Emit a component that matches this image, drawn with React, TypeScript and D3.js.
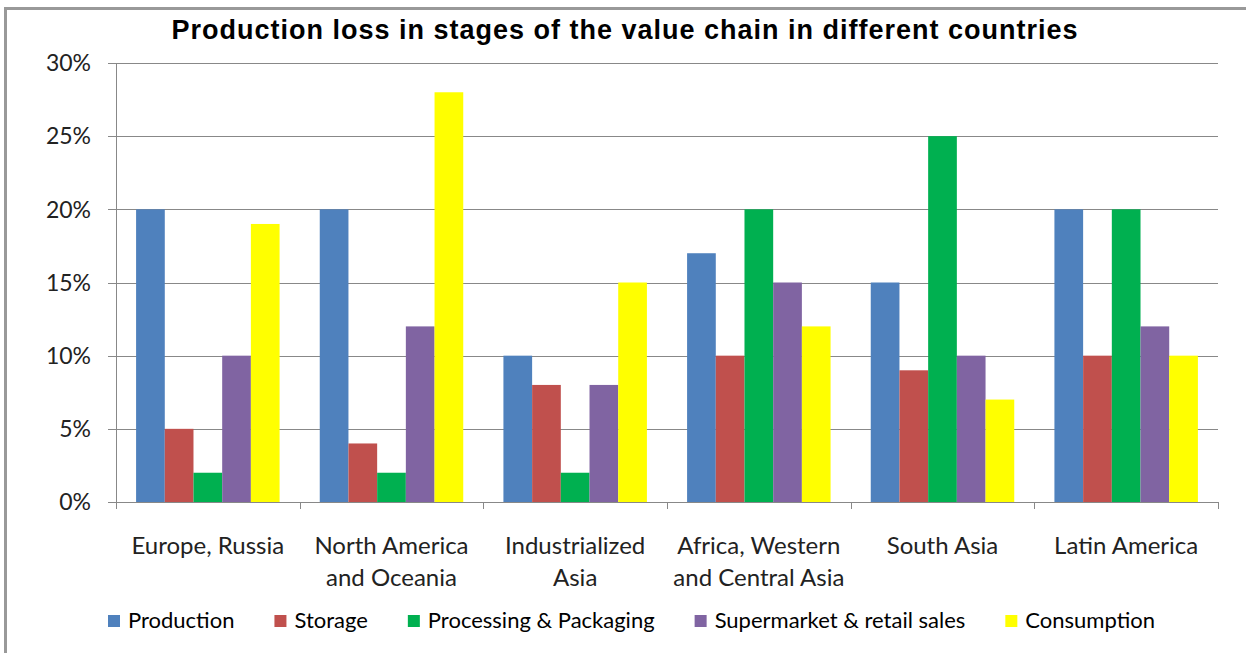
import React, { useEffect, useRef } from "react";
import * as d3 from "d3";

// Regions (two-line labels split with "\n")
const regions = [
  "Europe, Russia",
  "North America\nand Oceania",
  "Industrialized\nAsia",
  "Africa, Western\nand Central Asia",
  "South Asia",
  "Latin America",
];

const stages = [
  "Production",
  "Storage",
  "Processing & Packaging",
  "Supermarket & retail sales",
  "Consumption",
];

const stageColors = ["#4F81BD", "#C0504D", "#00B050", "#8064A2", "#FFFF00"];

// Loss share (%) per stage, one array per stage, ordered by region
const production = [20, 20, 10, 17, 15, 20];
const storage = [5, 4, 8, 10, 9, 10];
const processing = [2, 2, 2, 20, 25, 20];
const supermarket = [10, 12, 8, 15, 10, 12];
const consumption = [19, 28, 15, 12, 7, 10];

const yTicks = [0, 5, 10, 15, 20, 25, 30];

const W = 1246;
const H = 653;
const margin = { left: 116, right: 28, top: 63, bottom: 151 };
const labelFont = "Lato, 'Open Sans', sans-serif";

export default function App() {
  const ref = useRef<SVGSVGElement>(null);

  useEffect(() => {
    const svg = d3.select(ref.current);
    svg.selectAll("*").remove();

    const series = [production, storage, processing, supermarket, consumption];

    const x0 = d3
      .scaleBand<string>()
      .domain(regions)
      .range([margin.left, W - margin.right])
      .padding(0);
    const x1 = d3
      .scaleBand<string>()
      .domain(stages)
      .range([0, x0.bandwidth()])
      .paddingInner(0)
      .paddingOuter(0.7);
    const y = d3
      .scaleLinear()
      .domain([0, 30])
      .range([H - margin.bottom, margin.top]);

    // chart frame (left and top edges)
    svg
      .append("path")
      .attr("d", `M5.5,${H} L5.5,8.5 L${W},8.5`)
      .attr("fill", "none")
      .attr("stroke", "#999")
      .attr("stroke-width", 3);

    // title
    svg
      .append("text")
      .attr("x", 625)
      .attr("y", 39)
      .attr("text-anchor", "middle")
      .attr("font-family", "'Liberation Sans', Arial, sans-serif")
      .attr("font-weight", "bold")
      .attr("font-size", 27)
      .attr("letter-spacing", 1)
      .attr("fill", "#000")
      .text("Production loss in stages of the value chain in different countries");

    // horizontal gridlines + y ticks
    const gridColor = "#888";
    const g = svg.append("g");
    g.selectAll("line.grid")
      .data(yTicks)
      .join("line")
      .attr("x1", margin.left - 8)
      .attr("x2", W - margin.right)
      .attr("y1", (d) => Math.round(y(d)) + 0.5)
      .attr("y2", (d) => Math.round(y(d)) + 0.5)
      .attr("stroke", gridColor)
      .attr("stroke-width", 1);

    g.selectAll("text.ytick")
      .data(yTicks)
      .join("text")
      .attr("x", 91)
      .attr("y", (d) => y(d))
      .attr("dy", "0.36em")
      .attr("text-anchor", "end")
      .attr("font-family", labelFont)
      .attr("font-size", 23)
      .attr("fill", "#222")
      .text((d) => `${d}%`);

    // bars
    const groups = svg
      .append("g")
      .selectAll("g")
      .data(regions)
      .join("g")
      .attr("transform", (d) => `translate(${x0(d)},0)`);

    groups
      .selectAll("rect")
      .data((_, i) => stages.map((s, k) => ({ stage: s, value: series[k][i], k })))
      .join("rect")
      .attr("x", (d) => x1(d.stage)!)
      .attr("width", x1.bandwidth())
      .attr("y", (d) => y(d.value))
      .attr("height", (d) => y(0) - y(d.value))
      .attr("fill", (d) => stageColors[d.k]);

    // y axis line
    svg
      .append("line")
      .attr("x1", margin.left + 0.5)
      .attr("x2", margin.left + 0.5)
      .attr("y1", y(30))
      .attr("y2", y(0) + 1)
      .attr("stroke", gridColor);

    // x axis baseline + category ticks
    const bounds = regions.map((r) => x0(r)!).concat([W - margin.right]);
    svg
      .append("line")
      .attr("x1", margin.left - 8)
      .attr("x2", W - margin.right)
      .attr("y1", Math.round(y(0)) + 0.5)
      .attr("y2", Math.round(y(0)) + 0.5)
      .attr("stroke", gridColor);
    svg
      .append("g")
      .selectAll("line")
      .data(bounds)
      .join("line")
      .attr("x1", (d) => Math.round(d) + 0.5)
      .attr("x2", (d) => Math.round(d) + 0.5)
      .attr("y1", y(0))
      .attr("y2", y(0) + 7)
      .attr("stroke", gridColor);

    // category labels
    const cat = svg
      .append("g")
      .selectAll("text")
      .data(regions)
      .join("text")
      .attr("x", (d) => x0(d)! + x0.bandwidth() / 2)
      .attr("y", 554)
      .attr("text-anchor", "middle")
      .attr("font-family", labelFont)
      .attr("font-size", 24)
      .attr("fill", "#222");
    cat
      .selectAll("tspan")
      .data((d) => d.split("\n"))
      .join("tspan")
      .attr("x", function () {
        return (this.parentNode as SVGTextElement).getAttribute("x");
      })
      .attr("dy", (_, i) => (i === 0 ? 0 : 32))
      .text((d) => d);

    // legend, laid out from measured text widths
    const legend = svg.append("g");
    const items = legend.selectAll("g").data(stages).join("g");
    items
      .append("rect")
      .attr("width", 12)
      .attr("height", 12)
      .attr("y", -13)
      .attr("fill", (_, i) => stageColors[i]);
    items
      .append("text")
      .attr("x", 20)
      .attr("font-family", labelFont)
      .attr("font-size", 22)
      .attr("fill", "#000")
      .text((d) => d);
    const gap = 40;
    let cx = 0;
    const offsets: number[] = [];
    items.each(function () {
      offsets.push(cx);
      const w = (this as SVGGElement).getBBox().width;
      cx += w + gap;
    });
    const startX = 108;
    items.attr("transform", (_, i) => `translate(${startX + offsets[i]},628)`);
  }, []);

  return (
    <svg
      ref={ref}
      width={W}
      height={H}
      style={{ position: "absolute", left: 0, top: 0, background: "#fff" }}
    />
  );
}
